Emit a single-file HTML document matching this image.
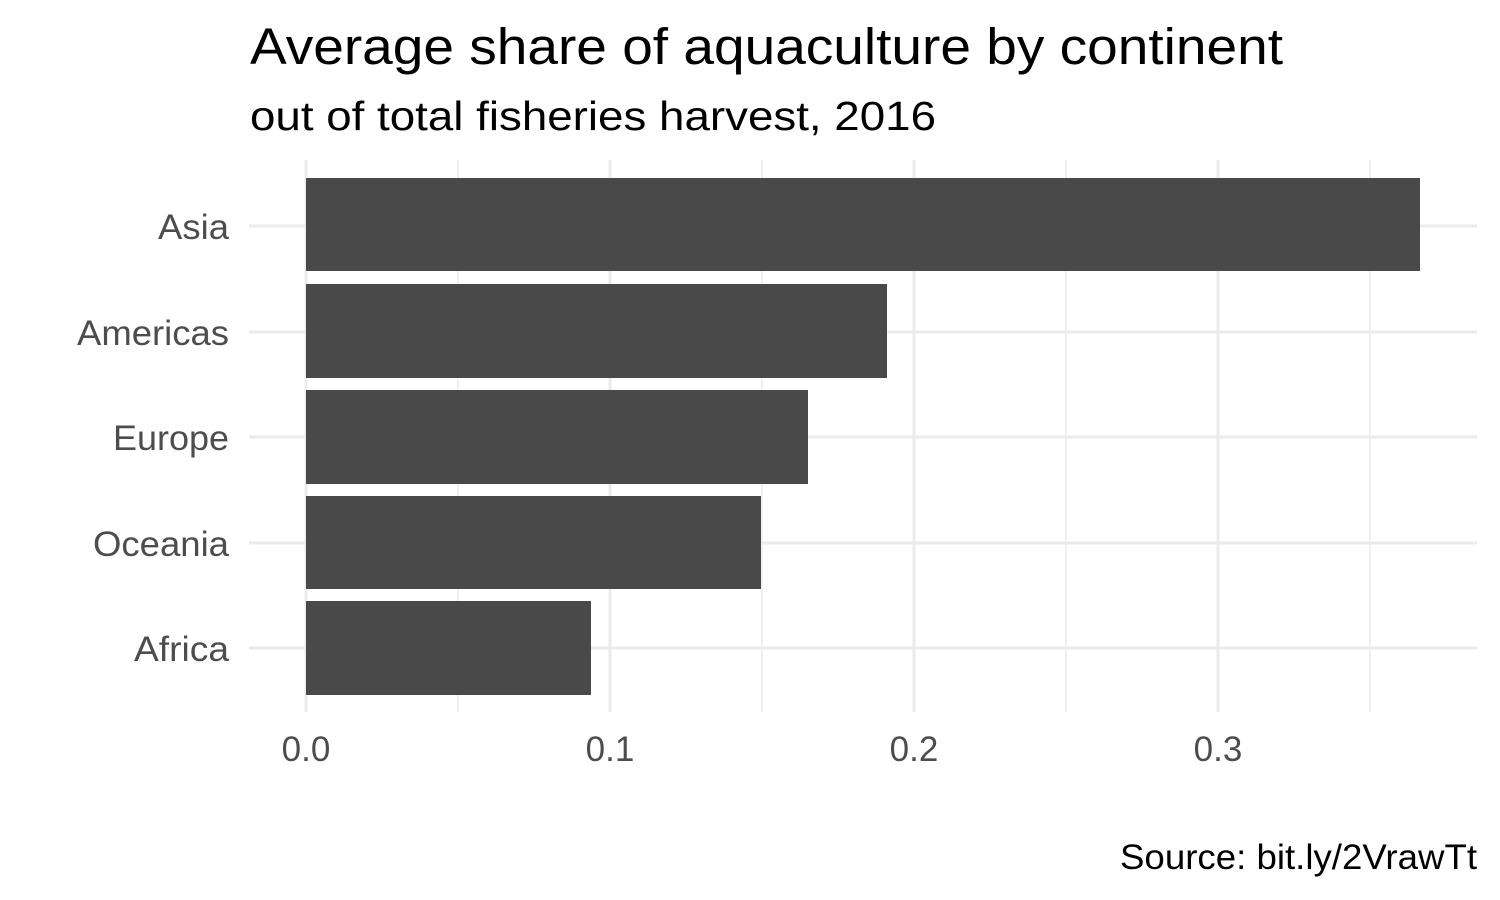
<!DOCTYPE html>
<html><head><meta charset="utf-8"><style>
html,body{margin:0;padding:0;background:#fff;}
svg{display:block;font-family:"Liberation Sans",Arial,sans-serif;}
</style></head><body>
<svg width="1500" height="900" viewBox="0 0 1500 900">
<rect width="1500" height="900" fill="#fff"/>
<text x="250" y="64" font-size="51" fill="#000" textLength="1033" lengthAdjust="spacingAndGlyphs">Average share of aquaculture by continent</text>
<text x="250" y="130" font-size="41" fill="#000" textLength="686" lengthAdjust="spacingAndGlyphs">out of total fisheries harvest, 2016</text>
<g stroke="#ebebeb">
<g stroke-width="1.5">
<line x1="458" y1="160" x2="458" y2="712"/><line x1="762" y1="160" x2="762" y2="712"/>
<line x1="1066" y1="160" x2="1066" y2="712"/><line x1="1370" y1="160" x2="1370" y2="712"/>
</g>
<g stroke-width="3">
<line x1="306" y1="160" x2="306" y2="712"/><line x1="610" y1="160" x2="610" y2="712"/>
<line x1="914" y1="160" x2="914" y2="712"/><line x1="1218" y1="160" x2="1218" y2="712"/>
<line x1="249" y1="226" x2="1477" y2="226"/><line x1="249" y1="332" x2="1477" y2="332"/>
<line x1="249" y1="437" x2="1477" y2="437"/><line x1="249" y1="543" x2="1477" y2="543"/>
<line x1="249" y1="648" x2="1477" y2="648"/>
</g></g>
<g fill="#494949">
<rect x="306" y="178" width="1114" height="93"/>
<rect x="306" y="284" width="581" height="94"/>
<rect x="306" y="390" width="502" height="94"/>
<rect x="306" y="496" width="455" height="93"/>
<rect x="306" y="601" width="285" height="94"/>
</g>
<g font-size="35" fill="#4d4d4d" text-anchor="end">
<text x="229" y="239" textLength="71" lengthAdjust="spacingAndGlyphs">Asia</text>
<text x="229" y="345" textLength="152" lengthAdjust="spacingAndGlyphs">Americas</text>
<text x="229" y="450" textLength="116" lengthAdjust="spacingAndGlyphs">Europe</text>
<text x="229" y="556" textLength="136" lengthAdjust="spacingAndGlyphs">Oceania</text>
<text x="229" y="661" textLength="95" lengthAdjust="spacingAndGlyphs">Africa</text>
</g>
<g font-size="35" fill="#4d4d4d" text-anchor="middle">
<text x="306" y="761">0.0</text><text x="610" y="761">0.1</text>
<text x="914" y="761">0.2</text><text x="1218" y="761">0.3</text>
</g>
<text x="1477" y="869" font-size="35" fill="#000" text-anchor="end" textLength="357" lengthAdjust="spacingAndGlyphs">Source: bit.ly/2VrawTt</text>
</svg>
</body></html>
